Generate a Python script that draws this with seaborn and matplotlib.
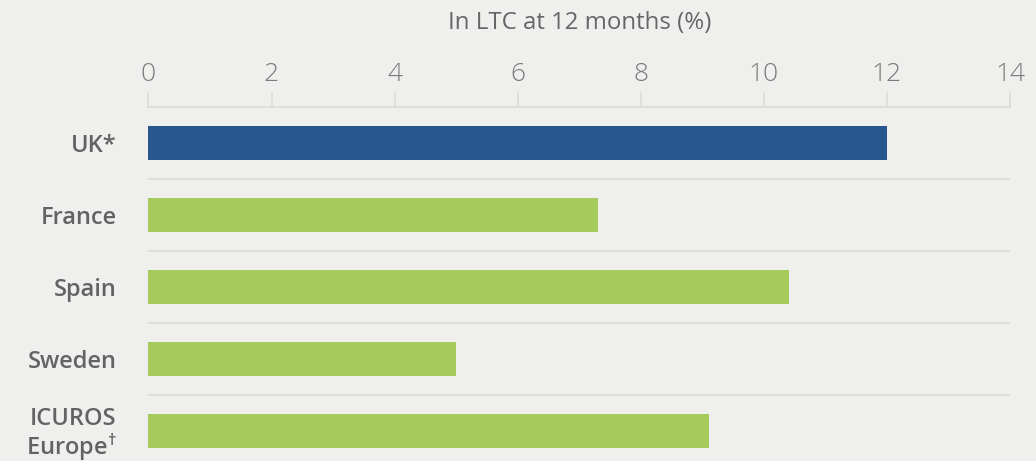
import pandas as pd
import matplotlib.pyplot as plt
import seaborn as sns

# data
countries = ['UK*', 'France', 'Spain', 'Sweden', 'ICUROS\nEurope$^{\\mathregular{\u2020}}$']
ltc_12m = [12.0, 7.3, 10.4, 5.0, 9.1]
bar_colors = ['#28578f', '#a6cb5c', '#a6cb5c', '#a6cb5c', '#a6cb5c']
x_ticks = [0, 2, 4, 6, 8, 10, 12, 14]
x_title = 'In LTC at 12 months (%)'

BG = '#eff0ed'
GRID = '#dcdddb'

sns.set_theme(style='white')
plt.rcParams['font.family'] = ['Open Sans', 'DejaVu Sans']
plt.rcParams['mathtext.default'] = 'regular'

df = pd.DataFrame({'country': countries, 'value': ltc_12m})

fig = plt.figure(figsize=(10.36, 4.61), dpi=100, facecolor=BG)
ax = fig.add_axes([0.1433, 0.0, 0.8317, 0.7679])
ax.set_facecolor(BG)

sns.barplot(data=df, x='value', y='country', hue='country',
            palette=dict(zip(countries, bar_colors)), orient='h',
            width=0.47, legend=False, ax=ax, saturation=1, linewidth=0)

# row separators
for i in range(len(countries) - 1):
    ax.axhline(i + 0.5, color=GRID, lw=1.3, zorder=0)

ax.set_xlim(0, 14)
ax.set_ylim(4.417, -0.5)
ax.set_xticks(x_ticks)
ax.set_xticklabels([str(t) for t in x_ticks])

ax.xaxis.tick_top()
ax.xaxis.set_label_position('top')
ax.set_xlabel(x_title, fontsize=17.3, color='#666666', labelpad=24)
ax.set_ylabel('')

ax.tick_params(axis='x', which='both', top=True, bottom=False, length=10.8,
               width=1.2, color=GRID, pad=3.5, labelsize=19, labelcolor='#7a7a7a')
for lbl in ax.get_xticklabels():
    lbl.set_fontweight('light')
ax.tick_params(axis='y', length=0, pad=23, labelsize=17, labelcolor='#636363')
for lbl in ax.get_yticklabels():
    lbl.set_fontweight('semibold')
    lbl.set_linespacing(1.0)

for side in ['right', 'bottom', 'left']:
    ax.spines[side].set_visible(False)
ax.spines['top'].set_color(GRID)
ax.spines['top'].set_linewidth(1.3)

fig.savefig('out.png', dpi=100, facecolor=BG)
